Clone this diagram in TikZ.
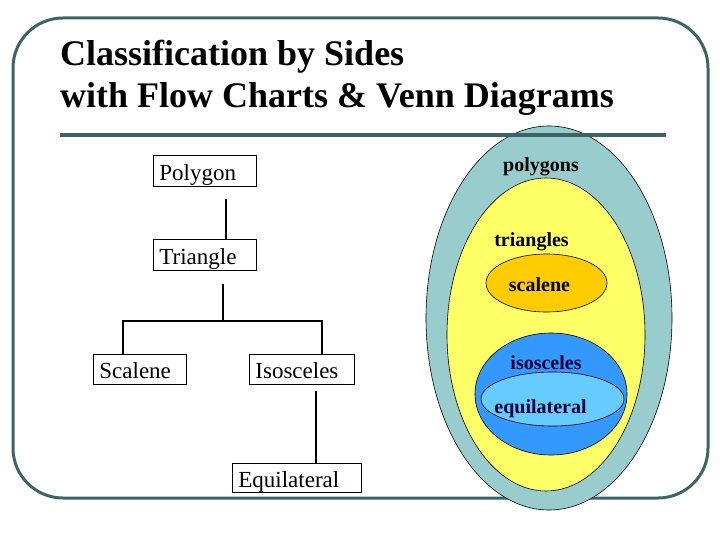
\documentclass[tikz,border=0pt]{standalone}
\usepackage{fontspec}
\setmainfont{Liberation Serif}
\usetikzlibrary{calc}
\definecolor{framecol}{RGB}{61,100,100}
\definecolor{vteal}{RGB}{153,204,204}
\definecolor{vyellow}{RGB}{255,255,102}
\definecolor{vorange}{RGB}{255,204,0}
\definecolor{vblue}{RGB}{51,153,255}
\definecolor{vlblue}{RGB}{102,204,255}
\definecolor{vnavy}{RGB}{0,0,51}
\begin{document}
\begin{tikzpicture}[x=1pt,y=-1pt,
  titletext/.style={anchor=base west, inner sep=0pt, font=\fontsize{36}{42}\selectfont\bfseries},
  fbox/.style={draw, line width=0.8pt, anchor=north west, inner xsep=6pt, inner ysep=0pt,
    align=left, text height=22pt, text depth=3pt, font=\fontsize{23}{27}\selectfont},
  conn/.style={line width=2.2pt},
  vlabel/.style={anchor=base, inner sep=0pt, font=\fontsize{20}{22}\selectfont\bfseries},
  venn/.style={draw=black, line width=0.6pt}]
\useasboundingbox (0,0) rectangle (720,540);
% frame
\draw[framecol, line width=3pt, rounded corners=50pt] (13,18) rectangle (708,498);
% title
\node[titletext] (title1) at (60,66) {Classification by Sides};
\node[titletext] (title2) at (60,108) {with Flow Charts \& Venn Diagrams};
% Venn diagram
\filldraw[venn, fill=vteal] (549,318) ellipse [x radius=123pt, y radius=192pt];
\filldraw[venn, fill=vyellow] (546,334.5) ellipse [x radius=99pt, y radius=156.5pt];
\filldraw[venn, fill=vorange] (546.5,283) ellipse [x radius=60.5pt, y radius=29pt];
\filldraw[venn, fill=vblue] (551,394) ellipse [x radius=76pt, y radius=61pt];
\filldraw[venn, fill=vlblue] (552.5,399) ellipse [x radius=71.5pt, y radius=27pt];
\node[vlabel] (lpoly) at (541,172) {polygons};
\node[vlabel] (ltri) at (531.5,247) {triangles};
\node[vlabel] (lscal) at (539.5,291) {scalene};
\node[vlabel, text=vnavy] (lisos) at (546,369) {isosceles};
\node[vlabel, text=vnavy] (lequi) at (540.5,413) {equilateral};
% rule under title
\draw[framecol, line width=3.5pt] (60,135) -- (666,135);
% flow chart
\node[fbox, text width=91pt, minimum height=31pt] (poly) at (153,155) {Polygon};
\node[fbox, text width=91pt, minimum height=31pt] (tri) at (153,239) {Triangle};
\node[fbox, text width=81pt, minimum height=30pt] (scal) at (93,354) {Scalene};
\node[fbox, text width=93pt, minimum height=30pt] (isos) at (249,354) {Isosceles};
\node[fbox, text width=117pt, minimum height=29pt] (equi) at (232,463) {Equilateral};
\draw[conn] ($(poly.south west)+(73,12)$) -- ($(tri.north west)+(73,0)$);
\coordinate (bar) at ($(tri.south west)+(70,50)$);
\draw[conn] ($(tri.south west)+(70,13)$) -- (bar);
\draw[conn] ($(scal.north west)+(30,0)$) |- (bar) -| ($(isos.north west)+(73,0)$);
\draw[conn] ($(isos.south west)+(67,6)$) -- ($(equi.north west)+(84,0)$);
\end{tikzpicture}
\end{document}
